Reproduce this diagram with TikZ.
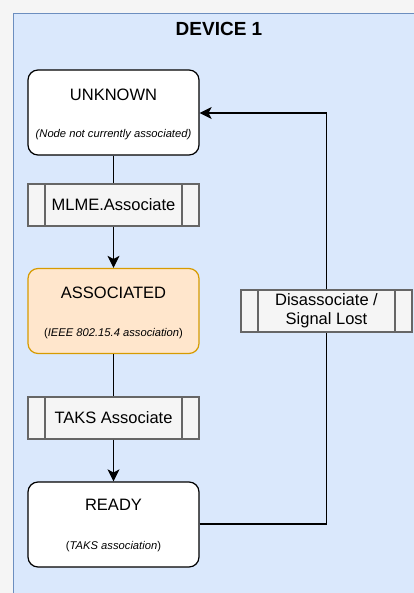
\documentclass[tikz,border=0pt]{standalone}
\usepackage{fontspec}
\setmainfont{Liberation Sans}
\usetikzlibrary{arrows.meta, positioning, calc}
\definecolor{pagegray}{HTML}{F5F5F5}
\definecolor{devfill}{HTML}{DAE8FC}
\definecolor{devline}{HTML}{6C8EBF}
\definecolor{assocfill}{HTML}{FFE6CC}
\definecolor{assocline}{HTML}{D79B00}
\definecolor{procfill}{HTML}{F5F5F5}
\definecolor{procline}{HTML}{666666}

\begin{document}
\begin{tikzpicture}[x=1pt, y=-1pt,
  statebox/.style={draw, line width=1.2pt, fill=white, rounded corners=10pt, minimum width=171pt, minimum height=85pt},
  procbox/.style={draw=procline, line width=1.2pt, fill=procfill, minimum width=171pt, minimum height=42pt,
    font=\fontsize{16.5}{19}\selectfont, align=center,
    path picture={
      \draw[procline, line width=1.2pt] ([xshift=17pt]path picture bounding box.north west) -- ([xshift=17pt]path picture bounding box.south west);
      \draw[procline, line width=1.2pt] ([xshift=-17pt]path picture bounding box.north east) -- ([xshift=-17pt]path picture bounding box.south east);
    }},
  statename/.style={font=\fontsize{16.5}{19}\selectfont, inner sep=0pt},
  statenote/.style={font=\fontsize{11.2}{13}\selectfont, inner sep=0pt},
  flow/.style={line width=1.2pt, -{Stealth[length=12pt, width=12pt, inset=3pt]}},
  link/.style={line width=1.2pt}]

  % page and device container
  \fill[pagegray] (0,0) rectangle (414,593);
  \useasboundingbox (0,0) rectangle (414,593);
  \filldraw[fill=devfill, draw=devline, line width=1pt] (13.5,13.5) rectangle (430,610);
  \node[font=\fontsize{19}{22}\selectfont\bfseries] (title) at (219,29) {DEVICE 1};

  % states
  \node[statebox] (unknown) at (113.5,112.5) {};
  \node[statename] (unknownname) at (113.5,95) {UNKNOWN};
  \node[statenote] (unknownnote) at (113.5,135) {\itshape(Node not currently associated)};

  \node[statebox, draw=assocline, fill=assocfill] (assoc) at (113.5,311) {};
  \node[statename] (assocname) at (113.5,293) {ASSOCIATED};
  \node[statenote] (assocnote) at (113.5,334) {(\textit{IEEE 802.15.4 association})};

  \node[statebox] (ready) at (113.5,524.5) {};
  \node[statename] (readyname) at (113.5,505) {READY};
  \node[statenote] (readynote) at (113.5,547) {(\textit{TAKS association})};

  % transitions
  \node[procbox] (mlme) at (113.5,205) {MLME.Associate};
  \node[procbox] (taks) at (113.5,418) {TAKS Associate};
  \node[procbox] (lost) at (326.5,311) {Disassociate /\\Signal Lost};

  \draw[link] (unknown) -- (mlme);
  \draw[flow] (mlme) -- (assoc);
  \draw[link] (assoc) -- (taks);
  \draw[flow] (taks) -- (ready);
  \draw[link] (ready.east |- 0,524) -| (lost.south);
  \draw[flow] (lost.north) |- (unknown.east |- 0,113);
\end{tikzpicture}
\end{document}
